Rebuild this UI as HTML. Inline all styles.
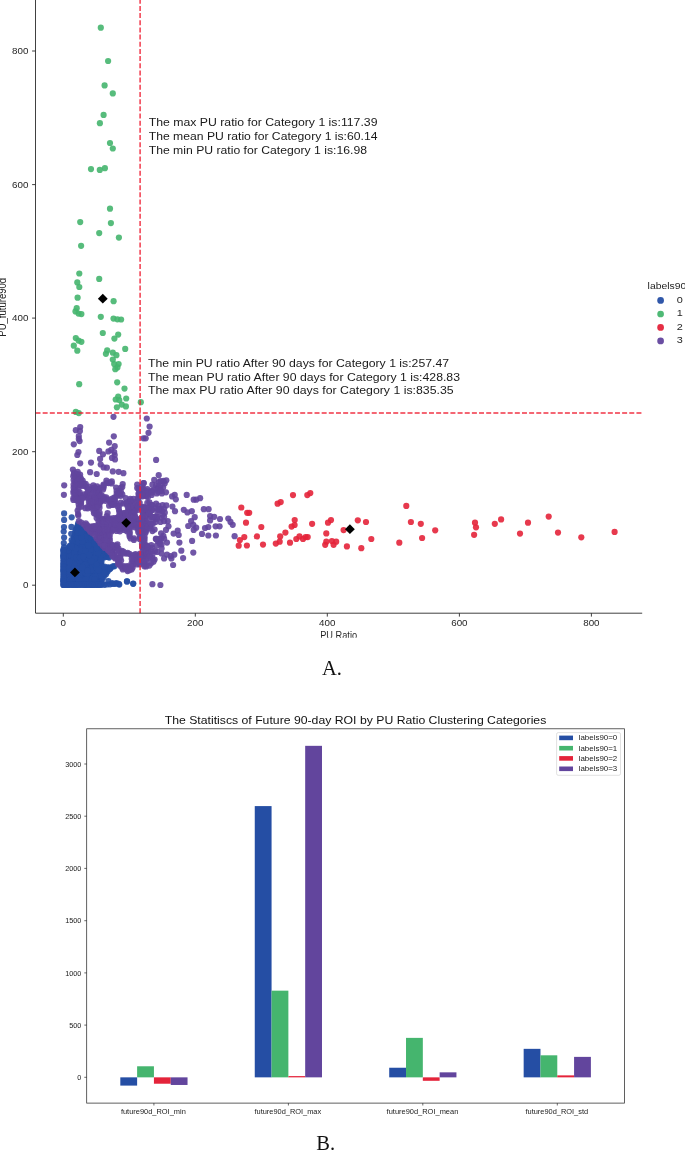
<!DOCTYPE html><html><head><meta charset="utf-8"><title>chart</title><style>html,body{margin:0;padding:0;background:#fff}body{width:685px;height:1150px;overflow:hidden}</style></head><body><svg width="685" height="1150" viewBox="0 0 685 1150" style="display:block;font-family:'Liberation Sans',sans-serif;will-change:transform;-webkit-font-smoothing:antialiased">
<rect width="685" height="1150" fill="#fff"/>
<g fill="#254ea4" fill-opacity="0.9">
<circle cx="108.4" cy="581.0" r="3.1"/><circle cx="116.4" cy="583.1" r="3.1"/><circle cx="119.3" cy="584.6" r="3.1"/><circle cx="126.9" cy="581.4" r="3.1"/><circle cx="133.2" cy="583.6" r="3.1"/><circle cx="112.2" cy="583.1" r="3.1"/><circle cx="74.7" cy="556.9" r="3.1"/><circle cx="81.0" cy="560.5" r="3.1"/><circle cx="64.0" cy="574.9" r="3.1"/><circle cx="75.7" cy="537.8" r="3.1"/><circle cx="103.2" cy="552.7" r="3.1"/><circle cx="93.6" cy="576.8" r="3.1"/><circle cx="88.3" cy="569.0" r="3.1"/><circle cx="99.5" cy="559.8" r="3.1"/><circle cx="77.7" cy="525.3" r="3.1"/><circle cx="104.6" cy="552.5" r="3.1"/><circle cx="97.6" cy="577.4" r="3.1"/><circle cx="97.4" cy="580.0" r="3.1"/><circle cx="82.2" cy="572.7" r="3.1"/><circle cx="84.6" cy="580.9" r="3.1"/><circle cx="93.2" cy="541.9" r="3.1"/><circle cx="87.5" cy="547.1" r="3.1"/><circle cx="91.2" cy="579.0" r="3.1"/><circle cx="95.9" cy="580.5" r="3.1"/><circle cx="77.0" cy="527.3" r="3.1"/><circle cx="67.6" cy="572.6" r="3.1"/><circle cx="82.9" cy="532.7" r="3.1"/><circle cx="77.4" cy="570.7" r="3.1"/><circle cx="87.5" cy="584.8" r="3.1"/><circle cx="72.8" cy="548.5" r="3.1"/><circle cx="65.4" cy="576.8" r="3.1"/><circle cx="78.3" cy="582.4" r="3.1"/><circle cx="85.3" cy="555.4" r="3.1"/><circle cx="94.0" cy="560.0" r="3.1"/><circle cx="90.0" cy="561.5" r="3.1"/><circle cx="83.9" cy="567.7" r="3.1"/><circle cx="74.7" cy="541.9" r="3.1"/><circle cx="83.2" cy="559.1" r="3.1"/><circle cx="64.4" cy="561.3" r="3.1"/><circle cx="93.3" cy="552.1" r="3.1"/><circle cx="95.7" cy="545.1" r="3.1"/><circle cx="97.1" cy="568.8" r="3.1"/><circle cx="95.6" cy="582.6" r="3.1"/><circle cx="75.4" cy="551.5" r="3.1"/><circle cx="91.6" cy="543.1" r="3.1"/><circle cx="80.7" cy="542.6" r="3.1"/><circle cx="77.7" cy="546.6" r="3.1"/><circle cx="90.5" cy="568.6" r="3.1"/><circle cx="78.2" cy="537.1" r="3.1"/><circle cx="72.3" cy="550.2" r="3.1"/><circle cx="78.7" cy="543.9" r="3.1"/><circle cx="79.4" cy="563.4" r="3.1"/><circle cx="88.6" cy="535.1" r="3.1"/><circle cx="101.8" cy="575.0" r="3.1"/><circle cx="79.9" cy="549.0" r="3.1"/><circle cx="83.4" cy="548.6" r="3.1"/><circle cx="63.6" cy="581.4" r="3.1"/><circle cx="98.9" cy="574.9" r="3.1"/><circle cx="95.0" cy="555.3" r="3.1"/><circle cx="77.2" cy="544.4" r="3.1"/><circle cx="91.4" cy="541.1" r="3.1"/><circle cx="64.0" cy="569.2" r="3.1"/><circle cx="83.1" cy="581.2" r="3.1"/><circle cx="92.5" cy="544.4" r="3.1"/><circle cx="75.4" cy="576.4" r="3.1"/><circle cx="86.1" cy="571.5" r="3.1"/><circle cx="80.1" cy="535.5" r="3.1"/><circle cx="88.8" cy="573.6" r="3.1"/><circle cx="71.6" cy="572.1" r="3.1"/><circle cx="76.2" cy="555.8" r="3.1"/><circle cx="83.5" cy="552.5" r="3.1"/><circle cx="67.5" cy="554.3" r="3.1"/><circle cx="72.5" cy="543.6" r="3.1"/><circle cx="69.3" cy="557.6" r="3.1"/><circle cx="97.5" cy="546.8" r="3.1"/><circle cx="101.5" cy="561.7" r="3.1"/><circle cx="83.9" cy="546.3" r="3.1"/><circle cx="87.0" cy="566.6" r="3.1"/><circle cx="83.4" cy="566.1" r="3.1"/><circle cx="85.3" cy="538.5" r="3.1"/><circle cx="88.9" cy="566.2" r="3.1"/><circle cx="66.8" cy="549.5" r="3.1"/><circle cx="83.7" cy="577.5" r="3.1"/><circle cx="106.1" cy="572.0" r="3.1"/><circle cx="69.3" cy="573.4" r="3.1"/><circle cx="94.9" cy="578.0" r="3.1"/><circle cx="101.1" cy="564.5" r="3.1"/><circle cx="98.3" cy="558.1" r="3.1"/><circle cx="68.3" cy="559.6" r="3.1"/><circle cx="69.2" cy="575.3" r="3.1"/><circle cx="95.5" cy="574.8" r="3.1"/><circle cx="99.9" cy="554.9" r="3.1"/><circle cx="99.1" cy="580.9" r="3.1"/><circle cx="90.2" cy="574.3" r="3.1"/><circle cx="74.9" cy="534.5" r="3.1"/><circle cx="75.3" cy="561.3" r="3.1"/><circle cx="99.3" cy="547.6" r="3.1"/><circle cx="86.4" cy="562.9" r="3.1"/><circle cx="68.0" cy="569.4" r="3.1"/><circle cx="107.0" cy="555.2" r="3.1"/><circle cx="72.9" cy="559.4" r="3.1"/><circle cx="77.5" cy="566.8" r="3.1"/><circle cx="83.1" cy="575.9" r="3.1"/><circle cx="86.2" cy="546.9" r="3.1"/><circle cx="71.6" cy="545.6" r="3.1"/><circle cx="78.7" cy="571.0" r="3.1"/><circle cx="70.2" cy="584.4" r="3.1"/><circle cx="86.2" cy="560.2" r="3.1"/><circle cx="85.7" cy="574.7" r="3.1"/><circle cx="102.5" cy="557.7" r="3.1"/><circle cx="98.3" cy="582.5" r="3.1"/><circle cx="74.6" cy="567.5" r="3.1"/><circle cx="72.3" cy="566.7" r="3.1"/><circle cx="78.3" cy="549.4" r="3.1"/><circle cx="67.8" cy="574.7" r="3.1"/><circle cx="91.0" cy="564.9" r="3.1"/><circle cx="76.5" cy="564.3" r="3.1"/><circle cx="68.8" cy="578.0" r="3.1"/><circle cx="100.2" cy="570.0" r="3.1"/><circle cx="94.5" cy="573.0" r="3.1"/><circle cx="76.0" cy="569.8" r="3.1"/><circle cx="86.9" cy="545.1" r="3.1"/><circle cx="97.6" cy="565.1" r="3.1"/><circle cx="94.1" cy="562.2" r="3.1"/><circle cx="71.9" cy="578.1" r="3.1"/><circle cx="79.2" cy="567.7" r="3.1"/><circle cx="91.8" cy="557.5" r="3.1"/><circle cx="78.3" cy="534.3" r="3.1"/><circle cx="66.7" cy="567.4" r="3.1"/><circle cx="76.1" cy="547.0" r="3.1"/><circle cx="87.4" cy="538.6" r="3.1"/><circle cx="89.2" cy="570.9" r="3.1"/><circle cx="80.2" cy="575.5" r="3.1"/><circle cx="100.5" cy="568.1" r="3.1"/><circle cx="83.2" cy="569.1" r="3.1"/><circle cx="102.2" cy="569.4" r="3.1"/><circle cx="82.4" cy="535.3" r="3.1"/><circle cx="88.5" cy="558.4" r="3.1"/><circle cx="101.6" cy="578.2" r="3.1"/><circle cx="93.6" cy="583.5" r="3.1"/><circle cx="92.0" cy="568.1" r="3.1"/><circle cx="63.5" cy="570.8" r="3.1"/><circle cx="94.9" cy="553.7" r="3.1"/><circle cx="88.3" cy="551.7" r="3.1"/><circle cx="72.6" cy="556.0" r="3.1"/><circle cx="65.2" cy="554.2" r="3.1"/><circle cx="94.1" cy="550.7" r="3.1"/><circle cx="90.3" cy="582.4" r="3.1"/><circle cx="89.1" cy="580.6" r="3.1"/><circle cx="78.8" cy="576.9" r="3.1"/><circle cx="107.5" cy="567.4" r="3.1"/><circle cx="101.8" cy="580.7" r="3.1"/><circle cx="99.4" cy="553.2" r="3.1"/><circle cx="71.1" cy="554.0" r="3.1"/><circle cx="96.7" cy="556.5" r="3.1"/><circle cx="83.5" cy="563.3" r="3.1"/><circle cx="77.9" cy="552.0" r="3.1"/><circle cx="81.1" cy="556.0" r="3.1"/><circle cx="85.3" cy="535.4" r="3.1"/><circle cx="84.7" cy="548.5" r="3.1"/><circle cx="64.7" cy="582.8" r="3.1"/><circle cx="86.0" cy="533.5" r="3.1"/><circle cx="100.9" cy="552.0" r="3.1"/><circle cx="75.3" cy="539.8" r="3.1"/><circle cx="79.8" cy="529.2" r="3.1"/><circle cx="66.0" cy="563.6" r="3.1"/><circle cx="77.9" cy="560.7" r="3.1"/><circle cx="77.4" cy="575.7" r="3.1"/><circle cx="68.9" cy="547.4" r="3.1"/><circle cx="79.3" cy="565.2" r="3.1"/><circle cx="98.6" cy="568.5" r="3.1"/><circle cx="83.1" cy="537.5" r="3.1"/><circle cx="76.2" cy="533.8" r="3.1"/><circle cx="97.7" cy="560.7" r="3.1"/><circle cx="85.6" cy="570.0" r="3.1"/><circle cx="106.1" cy="568.5" r="3.1"/><circle cx="79.3" cy="546.2" r="3.1"/><circle cx="70.7" cy="563.0" r="3.1"/><circle cx="74.3" cy="582.9" r="3.1"/><circle cx="92.2" cy="571.9" r="3.1"/><circle cx="67.5" cy="552.0" r="3.1"/><circle cx="74.0" cy="574.4" r="3.1"/><circle cx="92.7" cy="562.9" r="3.1"/><circle cx="99.6" cy="577.0" r="3.1"/><circle cx="79.9" cy="553.2" r="3.1"/><circle cx="66.8" cy="557.4" r="3.1"/><circle cx="98.4" cy="549.4" r="3.1"/><circle cx="73.6" cy="545.0" r="3.1"/><circle cx="92.5" cy="580.7" r="3.1"/><circle cx="88.9" cy="549.2" r="3.1"/><circle cx="77.3" cy="580.9" r="3.1"/><circle cx="88.1" cy="562.7" r="3.1"/><circle cx="65.3" cy="569.2" r="3.1"/><circle cx="76.5" cy="550.0" r="3.1"/><circle cx="79.8" cy="569.0" r="3.1"/><circle cx="70.7" cy="570.3" r="3.1"/><circle cx="81.1" cy="533.3" r="3.1"/><circle cx="88.4" cy="556.7" r="3.1"/><circle cx="69.7" cy="556.1" r="3.1"/><circle cx="84.0" cy="544.2" r="3.1"/><circle cx="75.2" cy="572.7" r="3.1"/><circle cx="83.3" cy="539.4" r="3.1"/><circle cx="65.5" cy="549.8" r="3.1"/><circle cx="93.3" cy="564.9" r="3.1"/><circle cx="75.2" cy="531.8" r="3.1"/><circle cx="99.5" cy="572.0" r="3.1"/><circle cx="89.7" cy="540.6" r="3.1"/><circle cx="83.1" cy="555.3" r="3.1"/><circle cx="95.9" cy="584.4" r="3.1"/><circle cx="80.2" cy="551.4" r="3.1"/><circle cx="78.4" cy="555.5" r="3.1"/><circle cx="86.6" cy="540.6" r="3.1"/><circle cx="68.3" cy="564.5" r="3.1"/><circle cx="81.6" cy="574.3" r="3.1"/><circle cx="78.5" cy="540.1" r="3.1"/><circle cx="76.8" cy="531.5" r="3.1"/><circle cx="76.8" cy="582.5" r="3.1"/><circle cx="70.3" cy="579.1" r="3.1"/><circle cx="71.9" cy="584.5" r="3.1"/><circle cx="95.5" cy="563.2" r="3.1"/><circle cx="72.4" cy="574.0" r="3.1"/><circle cx="81.6" cy="530.0" r="3.1"/><circle cx="82.0" cy="584.1" r="3.1"/><circle cx="80.2" cy="579.7" r="3.1"/><circle cx="80.3" cy="581.9" r="3.1"/><circle cx="100.6" cy="558.4" r="3.1"/><circle cx="64.1" cy="576.9" r="3.1"/><circle cx="70.4" cy="560.3" r="3.1"/><circle cx="104.4" cy="574.8" r="3.1"/><circle cx="85.0" cy="552.8" r="3.1"/><circle cx="88.7" cy="577.2" r="3.1"/><circle cx="84.4" cy="561.4" r="3.1"/><circle cx="103.7" cy="571.2" r="3.1"/><circle cx="82.4" cy="546.3" r="3.1"/><circle cx="86.0" cy="578.2" r="3.1"/><circle cx="99.3" cy="584.4" r="3.1"/><circle cx="86.2" cy="549.4" r="3.1"/><circle cx="106.0" cy="574.2" r="3.1"/><circle cx="67.6" cy="562.8" r="3.1"/><circle cx="85.7" cy="576.1" r="3.1"/><circle cx="77.6" cy="578.7" r="3.1"/><circle cx="100.0" cy="579.4" r="3.1"/><circle cx="104.2" cy="568.8" r="3.1"/><circle cx="84.0" cy="542.6" r="3.1"/><circle cx="81.7" cy="575.8" r="3.1"/><circle cx="75.9" cy="566.1" r="3.1"/><circle cx="73.9" cy="550.6" r="3.1"/><circle cx="90.3" cy="538.5" r="3.1"/><circle cx="76.2" cy="578.7" r="3.1"/><circle cx="79.9" cy="584.6" r="3.1"/><circle cx="105.5" cy="556.7" r="3.1"/><circle cx="63.9" cy="565.1" r="3.1"/><circle cx="86.2" cy="558.3" r="3.1"/><circle cx="90.2" cy="547.1" r="3.1"/><circle cx="73.0" cy="554.5" r="3.1"/><circle cx="104.7" cy="555.1" r="3.1"/><circle cx="76.6" cy="542.7" r="3.1"/><circle cx="90.6" cy="554.8" r="3.1"/><circle cx="68.1" cy="566.7" r="3.1"/><circle cx="85.2" cy="583.3" r="3.1"/><circle cx="71.3" cy="564.4" r="3.1"/><circle cx="96.1" cy="549.7" r="3.1"/><circle cx="73.5" cy="570.0" r="3.1"/><circle cx="87.4" cy="582.0" r="3.1"/><circle cx="89.3" cy="564.5" r="3.1"/><circle cx="92.5" cy="539.6" r="3.1"/><circle cx="88.1" cy="543.6" r="3.1"/><circle cx="95.2" cy="543.5" r="3.1"/><circle cx="74.3" cy="549.0" r="3.1"/><circle cx="94.9" cy="568.6" r="3.1"/><circle cx="68.1" cy="580.4" r="3.1"/><circle cx="84.3" cy="531.2" r="3.1"/><circle cx="69.2" cy="554.1" r="3.1"/><circle cx="64.0" cy="552.5" r="3.1"/><circle cx="63.6" cy="567.0" r="3.1"/><circle cx="67.6" cy="582.7" r="3.1"/><circle cx="66.7" cy="565.0" r="3.1"/><circle cx="82.0" cy="552.0" r="3.1"/><circle cx="75.6" cy="545.4" r="3.1"/><circle cx="73.8" cy="537.4" r="3.1"/><circle cx="107.9" cy="569.7" r="3.1"/><circle cx="75.3" cy="535.9" r="3.1"/><circle cx="70.8" cy="583.0" r="3.1"/><circle cx="72.9" cy="580.1" r="3.1"/><circle cx="82.4" cy="544.6" r="3.1"/><circle cx="84.2" cy="570.6" r="3.1"/><circle cx="71.5" cy="575.5" r="3.1"/><circle cx="87.9" cy="575.4" r="3.1"/><circle cx="87.0" cy="551.2" r="3.1"/><circle cx="103.6" cy="577.3" r="3.1"/><circle cx="99.3" cy="551.2" r="3.1"/><circle cx="67.2" cy="578.2" r="3.1"/><circle cx="92.9" cy="570.5" r="3.1"/><circle cx="69.9" cy="568.2" r="3.1"/><circle cx="91.7" cy="548.3" r="3.1"/><circle cx="92.8" cy="553.9" r="3.1"/><circle cx="88.3" cy="553.6" r="3.1"/><circle cx="90.1" cy="558.9" r="3.1"/><circle cx="72.9" cy="582.3" r="3.1"/><circle cx="63.5" cy="550.4" r="3.1"/><circle cx="79.7" cy="527.4" r="3.1"/><circle cx="89.7" cy="545.8" r="3.1"/><circle cx="66.2" cy="580.0" r="3.1"/><circle cx="82.3" cy="577.4" r="3.1"/><circle cx="99.6" cy="565.6" r="3.1"/><circle cx="80.4" cy="554.6" r="3.1"/><circle cx="99.0" cy="573.5" r="3.1"/><circle cx="81.0" cy="545.3" r="3.1"/><circle cx="73.2" cy="563.6" r="3.1"/><circle cx="81.4" cy="557.9" r="3.1"/><circle cx="88.0" cy="541.0" r="3.1"/><circle cx="72.6" cy="568.4" r="3.1"/><circle cx="91.4" cy="551.0" r="3.1"/><circle cx="64.0" cy="558.2" r="3.1"/><circle cx="73.3" cy="571.7" r="3.1"/><circle cx="90.1" cy="542.1" r="3.1"/><circle cx="74.7" cy="563.0" r="3.1"/><circle cx="93.0" cy="574.0" r="3.1"/><circle cx="74.2" cy="577.9" r="3.1"/><circle cx="82.8" cy="560.4" r="3.1"/><circle cx="102.5" cy="567.4" r="3.1"/><circle cx="81.7" cy="538.9" r="3.1"/><circle cx="78.7" cy="559.0" r="3.1"/><circle cx="81.9" cy="582.5" r="3.1"/><circle cx="96.9" cy="562.0" r="3.1"/><circle cx="81.1" cy="566.8" r="3.1"/><circle cx="66.9" cy="559.8" r="3.1"/><circle cx="92.6" cy="546.5" r="3.1"/><circle cx="107.6" cy="571.6" r="3.1"/><circle cx="81.2" cy="565.0" r="3.1"/><circle cx="75.2" cy="543.3" r="3.1"/><circle cx="84.6" cy="557.3" r="3.1"/><circle cx="93.1" cy="555.4" r="3.1"/><circle cx="65.7" cy="551.3" r="3.1"/><circle cx="84.4" cy="584.8" r="3.1"/><circle cx="96.1" cy="559.0" r="3.1"/><circle cx="77.9" cy="535.6" r="3.1"/><circle cx="79.5" cy="532.6" r="3.1"/><circle cx="89.0" cy="536.7" r="3.1"/><circle cx="76.8" cy="541.0" r="3.1"/><circle cx="67.6" cy="555.8" r="3.1"/><circle cx="102.7" cy="550.9" r="3.1"/><circle cx="81.1" cy="562.7" r="3.1"/><circle cx="87.3" cy="534.7" r="3.1"/><circle cx="94.5" cy="566.5" r="3.1"/><circle cx="97.2" cy="570.3" r="3.1"/><circle cx="93.3" cy="548.2" r="3.1"/><circle cx="97.9" cy="551.4" r="3.1"/><circle cx="91.6" cy="575.2" r="3.1"/><circle cx="97.9" cy="554.6" r="3.1"/><circle cx="91.9" cy="584.9" r="3.1"/><circle cx="73.2" cy="560.9" r="3.1"/><circle cx="80.1" cy="538.0" r="3.1"/><circle cx="81.3" cy="569.9" r="3.1"/><circle cx="87.8" cy="564.4" r="3.1"/><circle cx="77.1" cy="574.3" r="3.1"/><circle cx="76.0" cy="554.3" r="3.1"/><circle cx="97.1" cy="574.3" r="3.1"/><circle cx="96.2" cy="572.5" r="3.1"/><circle cx="96.2" cy="566.1" r="3.1"/><circle cx="65.3" cy="578.6" r="3.1"/><circle cx="91.8" cy="559.8" r="3.1"/><circle cx="78.4" cy="557.3" r="3.1"/><circle cx="84.9" cy="566.2" r="3.1"/><circle cx="74.3" cy="579.4" r="3.1"/><circle cx="98.9" cy="564.3" r="3.1"/><circle cx="90.4" cy="572.3" r="3.1"/><circle cx="89.8" cy="551.7" r="3.1"/><circle cx="66.2" cy="582.0" r="3.1"/><circle cx="66.2" cy="572.9" r="3.1"/><circle cx="74.9" cy="580.9" r="3.1"/><circle cx="94.8" cy="548.3" r="3.1"/><circle cx="86.8" cy="555.1" r="3.1"/><circle cx="63.9" cy="559.9" r="3.1"/><circle cx="110.4" cy="567.5" r="3.1"/><circle cx="75.9" cy="529.6" r="3.1"/><circle cx="100.9" cy="582.4" r="3.1"/><circle cx="84.1" cy="573.6" r="3.1"/><circle cx="68.6" cy="568.0" r="3.1"/><circle cx="66.9" cy="576.3" r="3.1"/><circle cx="82.9" cy="550.5" r="3.1"/><circle cx="69.7" cy="550.2" r="3.1"/><circle cx="74.3" cy="558.7" r="3.1"/><circle cx="77.4" cy="548.0" r="3.1"/><circle cx="101.2" cy="555.3" r="3.1"/><circle cx="85.6" cy="543.9" r="3.1"/><circle cx="96.5" cy="553.4" r="3.1"/><circle cx="80.3" cy="572.3" r="3.1"/><circle cx="65.7" cy="571.0" r="3.1"/><circle cx="93.1" cy="575.5" r="3.1"/><circle cx="73.9" cy="539.1" r="3.1"/><circle cx="81.9" cy="528.6" r="3.1"/><circle cx="80.0" cy="541.1" r="3.1"/><circle cx="73.0" cy="552.5" r="3.1"/><circle cx="91.2" cy="545.3" r="3.1"/><circle cx="83.7" cy="534.2" r="3.1"/><circle cx="76.8" cy="562.1" r="3.1"/><circle cx="67.0" cy="584.4" r="3.1"/><circle cx="103.3" cy="556.0" r="3.1"/><circle cx="70.2" cy="566.5" r="3.1"/><circle cx="89.8" cy="557.0" r="3.1"/><circle cx="101.8" cy="549.2" r="3.1"/><circle cx="77.9" cy="572.7" r="3.1"/><circle cx="77.6" cy="530.2" r="3.1"/><circle cx="73.4" cy="584.6" r="3.1"/><circle cx="80.4" cy="577.6" r="3.1"/><circle cx="71.3" cy="580.7" r="3.1"/><circle cx="83.4" cy="578.8" r="3.1"/><circle cx="90.2" cy="577.0" r="3.1"/><circle cx="98.0" cy="584.8" r="3.1"/><circle cx="65.7" cy="552.7" r="3.1"/><circle cx="101.9" cy="576.5" r="3.1"/><circle cx="78.4" cy="542.1" r="3.1"/><circle cx="72.6" cy="542.0" r="3.1"/><circle cx="84.8" cy="540.6" r="3.1"/><circle cx="94.1" cy="546.6" r="3.1"/><circle cx="82.3" cy="543.0" r="3.1"/><circle cx="102.6" cy="573.0" r="3.1"/><circle cx="77.4" cy="554.0" r="3.1"/><circle cx="90.7" cy="580.7" r="3.1"/><circle cx="107.7" cy="557.0" r="3.1"/><circle cx="77.2" cy="559.4" r="3.1"/><circle cx="96.1" cy="551.5" r="3.1"/><circle cx="91.6" cy="576.8" r="3.1"/><circle cx="65.5" cy="559.4" r="3.1"/><circle cx="85.2" cy="568.6" r="3.1"/><circle cx="71.6" cy="558.9" r="3.1"/><circle cx="77.8" cy="564.1" r="3.1"/><circle cx="69.3" cy="552.4" r="3.1"/><circle cx="79.6" cy="530.7" r="3.1"/><circle cx="89.8" cy="579.2" r="3.1"/><circle cx="86.4" cy="552.9" r="3.1"/><circle cx="66.6" cy="561.3" r="3.1"/><circle cx="76.1" cy="584.8" r="3.1"/><circle cx="78.5" cy="562.0" r="3.1"/><circle cx="96.6" cy="543.6" r="3.1"/><circle cx="88.3" cy="578.9" r="3.1"/><circle cx="95.9" cy="546.4" r="3.1"/><circle cx="71.1" cy="556.8" r="3.1"/><circle cx="80.8" cy="546.6" r="3.1"/><circle cx="78.0" cy="584.4" r="3.1"/><circle cx="74.3" cy="547.3" r="3.1"/><circle cx="96.3" cy="560.5" r="3.1"/><circle cx="70.4" cy="577.6" r="3.1"/><circle cx="88.4" cy="560.3" r="3.1"/><circle cx="69.7" cy="581.0" r="3.1"/><circle cx="88.9" cy="583.0" r="3.1"/><circle cx="78.1" cy="523.5" r="3.1"/><circle cx="78.3" cy="528.7" r="3.1"/><circle cx="65.3" cy="556.7" r="3.1"/><circle cx="73.3" cy="576.4" r="3.1"/><circle cx="93.3" cy="557.5" r="3.1"/><circle cx="87.0" cy="536.3" r="3.1"/><circle cx="84.8" cy="563.2" r="3.1"/><circle cx="100.1" cy="562.2" r="3.1"/><circle cx="71.2" cy="555.4" r="3.1"/><circle cx="71.6" cy="547.2" r="3.1"/><circle cx="86.1" cy="581.8" r="3.1"/><circle cx="89.9" cy="553.2" r="3.1"/><circle cx="81.7" cy="540.4" r="3.1"/><circle cx="85.7" cy="531.8" r="3.1"/><circle cx="83.4" cy="564.8" r="3.1"/><circle cx="101.1" cy="572.9" r="3.1"/><circle cx="82.1" cy="553.4" r="3.1"/><circle cx="73.1" cy="565.1" r="3.1"/><circle cx="82.1" cy="547.9" r="3.1"/><circle cx="63.8" cy="580.1" r="3.1"/><circle cx="70.9" cy="548.8" r="3.1"/><circle cx="82.3" cy="571.3" r="3.1"/><circle cx="93.3" cy="569.1" r="3.1"/><circle cx="97.9" cy="545.3" r="3.1"/><circle cx="71.8" cy="560.8" r="3.1"/><circle cx="101.1" cy="550.5" r="3.1"/><circle cx="65.8" cy="574.3" r="3.1"/><circle cx="93.0" cy="578.2" r="3.1"/><circle cx="97.1" cy="575.9" r="3.1"/><circle cx="67.4" cy="571.0" r="3.1"/><circle cx="104.0" cy="557.5" r="3.1"/><circle cx="69.3" cy="582.8" r="3.1"/><circle cx="88.9" cy="538.4" r="3.1"/><circle cx="81.2" cy="549.8" r="3.1"/><circle cx="102.7" cy="554.0" r="3.1"/><circle cx="77.9" cy="538.8" r="3.1"/><circle cx="90.3" cy="562.9" r="3.1"/><circle cx="108.9" cy="567.6" r="3.1"/><circle cx="93.6" cy="584.8" r="3.1"/><circle cx="94.6" cy="570.8" r="3.1"/><circle cx="94.1" cy="545.0" r="3.1"/><circle cx="90.8" cy="549.6" r="3.1"/><circle cx="74.5" cy="555.0" r="3.1"/><circle cx="81.8" cy="581.1" r="3.1"/><circle cx="89.2" cy="584.5" r="3.1"/><circle cx="64.4" cy="563.6" r="3.1"/><circle cx="92.9" cy="566.7" r="3.1"/><circle cx="98.8" cy="562.1" r="3.1"/><circle cx="84.4" cy="572.1" r="3.1"/><circle cx="101.2" cy="553.4" r="3.1"/><circle cx="102.0" cy="566.0" r="3.1"/><circle cx="85.8" cy="542.5" r="3.1"/><circle cx="75.7" cy="574.1" r="3.1"/><circle cx="86.4" cy="564.7" r="3.1"/><circle cx="63.9" cy="555.8" r="3.1"/><circle cx="83.8" cy="535.8" r="3.1"/><circle cx="97.9" cy="572.0" r="3.1"/><circle cx="94.8" cy="564.5" r="3.1"/><circle cx="79.5" cy="560.4" r="3.1"/><circle cx="79.1" cy="525.9" r="3.1"/><circle cx="74.6" cy="565.2" r="3.1"/><circle cx="68.4" cy="550.1" r="3.1"/><circle cx="102.4" cy="571.2" r="3.1"/><circle cx="106.1" cy="570.0" r="3.1"/><circle cx="88.8" cy="572.3" r="3.1"/><circle cx="82.0" cy="579.3" r="3.1"/><circle cx="96.5" cy="567.4" r="3.1"/><circle cx="100.3" cy="548.9" r="3.1"/><circle cx="98.8" cy="556.5" r="3.1"/><circle cx="70.0" cy="545.7" r="3.1"/><circle cx="98.5" cy="567.1" r="3.1"/><circle cx="85.3" cy="551.0" r="3.1"/><circle cx="104.4" cy="566.5" r="3.1"/><circle cx="100.4" cy="575.2" r="3.1"/><circle cx="74.6" cy="553.3" r="3.1"/><circle cx="86.9" cy="568.2" r="3.1"/><circle cx="82.1" cy="541.7" r="3.1"/><circle cx="109.5" cy="569.2" r="3.1"/><circle cx="94.2" cy="581.8" r="3.1"/><circle cx="68.3" cy="584.7" r="3.1"/><circle cx="69.3" cy="561.9" r="3.1"/><circle cx="86.9" cy="579.9" r="3.1"/><circle cx="85.3" cy="536.9" r="3.1"/><circle cx="89.6" cy="544.0" r="3.1"/><circle cx="87.1" cy="574.1" r="3.1"/><circle cx="88.4" cy="545.6" r="3.1"/><circle cx="89.0" cy="555.2" r="3.1"/><circle cx="98.5" cy="570.2" r="3.1"/><circle cx="94.7" cy="541.9" r="3.1"/><circle cx="79.7" cy="574.1" r="3.1"/><circle cx="76.3" cy="568.3" r="3.1"/><circle cx="85.2" cy="579.6" r="3.1"/><circle cx="76.6" cy="557.5" r="3.1"/><circle cx="97.0" cy="582.8" r="3.1"/><circle cx="80.0" cy="557.6" r="3.1"/><circle cx="85.0" cy="564.7" r="3.1"/><circle cx="95.3" cy="576.5" r="3.1"/><circle cx="63.8" cy="573.3" r="3.1"/><circle cx="91.8" cy="583.1" r="3.1"/><circle cx="86.0" cy="584.6" r="3.1"/><circle cx="64.0" cy="584.6" r="3.1"/><circle cx="78.3" cy="569.2" r="3.1"/><circle cx="70.3" cy="547.3" r="3.1"/><circle cx="100.9" cy="556.6" r="3.1"/><circle cx="90.9" cy="570.1" r="3.1"/><circle cx="81.4" cy="537.3" r="3.1"/><circle cx="70.0" cy="572.0" r="3.1"/><circle cx="95.4" cy="557.1" r="3.1"/><circle cx="73.0" cy="546.9" r="3.1"/><circle cx="78.1" cy="532.6" r="3.1"/><circle cx="83.8" cy="529.8" r="3.1"/><circle cx="96.8" cy="563.4" r="3.1"/><circle cx="82.5" cy="567.4" r="3.1"/><circle cx="81.4" cy="532.0" r="3.1"/><circle cx="94.7" cy="558.6" r="3.1"/><circle cx="64.0" cy="578.3" r="3.1"/><circle cx="98.1" cy="552.8" r="3.1"/><circle cx="104.4" cy="573.0" r="3.1"/><circle cx="83.5" cy="583.2" r="3.1"/><circle cx="77.1" cy="577.2" r="3.1"/><circle cx="75.8" cy="548.4" r="3.1"/><circle cx="101.0" cy="560.1" r="3.1"/><circle cx="91.5" cy="561.2" r="3.1"/><circle cx="109.2" cy="557.6" r="3.1"/><circle cx="78.9" cy="580.2" r="3.1"/><circle cx="96.8" cy="548.1" r="3.1"/><circle cx="94.4" cy="579.6" r="3.1"/><circle cx="87.6" cy="570.8" r="3.1"/><circle cx="83.2" cy="556.6" r="3.1"/><circle cx="63.4" cy="584.9" r="3.1"/><circle cx="65.4" cy="584.7" r="3.1"/><circle cx="66.6" cy="585.0" r="3.1"/><circle cx="68.5" cy="584.8" r="3.1"/><circle cx="70.1" cy="584.7" r="3.1"/><circle cx="71.9" cy="584.7" r="3.1"/><circle cx="73.1" cy="584.8" r="3.1"/><circle cx="74.4" cy="584.8" r="3.1"/><circle cx="76.4" cy="584.9" r="3.1"/><circle cx="77.8" cy="584.7" r="3.1"/><circle cx="79.3" cy="584.7" r="3.1"/><circle cx="81.1" cy="584.8" r="3.1"/><circle cx="82.9" cy="584.8" r="3.1"/><circle cx="84.4" cy="584.8" r="3.1"/><circle cx="85.9" cy="584.8" r="3.1"/><circle cx="87.9" cy="584.7" r="3.1"/><circle cx="89.8" cy="585.0" r="3.1"/><circle cx="91.5" cy="584.9" r="3.1"/><circle cx="92.9" cy="584.9" r="3.1"/><circle cx="94.9" cy="585.0" r="3.1"/><circle cx="97.0" cy="584.8" r="3.1"/><circle cx="98.7" cy="584.7" r="3.1"/><circle cx="100.9" cy="584.9" r="3.1"/><circle cx="63.5" cy="584.9" r="3.1"/><circle cx="63.5" cy="583.0" r="3.1"/><circle cx="63.4" cy="581.2" r="3.1"/><circle cx="63.3" cy="579.7" r="3.1"/><circle cx="63.4" cy="577.8" r="3.1"/><circle cx="63.4" cy="575.7" r="3.1"/><circle cx="63.6" cy="573.7" r="3.1"/><circle cx="63.5" cy="571.5" r="3.1"/><circle cx="63.3" cy="569.9" r="3.1"/><circle cx="63.5" cy="568.1" r="3.1"/><circle cx="63.6" cy="566.5" r="3.1"/><circle cx="63.4" cy="565.0" r="3.1"/><circle cx="63.4" cy="563.6" r="3.1"/><circle cx="63.5" cy="561.7" r="3.1"/><circle cx="63.6" cy="560.2" r="3.1"/><circle cx="63.4" cy="558.1" r="3.1"/><circle cx="63.3" cy="556.8" r="3.1"/><circle cx="63.3" cy="555.3" r="3.1"/><circle cx="63.6" cy="554.0" r="3.1"/><circle cx="63.6" cy="552.5" r="3.1"/><circle cx="63.5" cy="550.9" r="3.1"/><circle cx="63.5" cy="549.4" r="3.1"/><circle cx="64.1" cy="513.4" r="3.1"/><circle cx="64.1" cy="519.9" r="3.1"/><circle cx="64.0" cy="527.0" r="3.1"/><circle cx="63.7" cy="531.5" r="3.1"/><circle cx="64.1" cy="537.5" r="3.1"/><circle cx="63.8" cy="543.0" r="3.1"/><circle cx="64.1" cy="547.0" r="3.1"/><circle cx="71.7" cy="517.3" r="3.1"/><circle cx="71.4" cy="526.9" r="3.1"/><circle cx="71.2" cy="533.8" r="3.1"/><circle cx="71.6" cy="540.0" r="3.1"/><circle cx="71.2" cy="546.0" r="3.1"/><circle cx="77.8" cy="527.5" r="3.1"/><circle cx="112.9" cy="566.4" r="3.1"/><circle cx="110.5" cy="568.5" r="3.1"/><circle cx="114.4" cy="566.2" r="3.1"/><circle cx="102.0" cy="584.3" r="3.1"/><circle cx="104.5" cy="584.8" r="3.1"/><circle cx="107.0" cy="584.5" r="3.1"/><circle cx="110.0" cy="584.3" r="3.1"/><circle cx="113.0" cy="584.0" r="3.1"/><circle cx="115.3" cy="583.8" r="3.1"/><circle cx="118.8" cy="583.9" r="3.1"/><circle cx="127.1" cy="581.4" r="3.1"/><circle cx="133.2" cy="583.8" r="3.1"/>
</g>
<g fill="#45b56e" fill-opacity="0.9">
<circle cx="100.8" cy="27.7" r="3.1"/><circle cx="108.1" cy="61.0" r="3.1"/><circle cx="104.6" cy="85.4" r="3.1"/><circle cx="112.8" cy="93.4" r="3.1"/><circle cx="103.6" cy="114.9" r="3.1"/><circle cx="99.9" cy="123.2" r="3.1"/><circle cx="110.0" cy="143.0" r="3.1"/><circle cx="112.8" cy="148.5" r="3.1"/><circle cx="91.0" cy="169.1" r="3.1"/><circle cx="99.8" cy="169.9" r="3.1"/><circle cx="104.9" cy="168.2" r="3.1"/><circle cx="110.0" cy="208.7" r="3.1"/><circle cx="80.2" cy="222.1" r="3.1"/><circle cx="110.9" cy="223.1" r="3.1"/><circle cx="99.2" cy="233.1" r="3.1"/><circle cx="118.9" cy="237.6" r="3.1"/><circle cx="81.1" cy="245.8" r="3.1"/><circle cx="79.3" cy="273.5" r="3.1"/><circle cx="99.2" cy="278.9" r="3.1"/><circle cx="77.3" cy="282.4" r="3.1"/><circle cx="79.3" cy="287.0" r="3.1"/><circle cx="77.6" cy="297.7" r="3.1"/><circle cx="113.6" cy="301.2" r="3.1"/><circle cx="76.7" cy="308.2" r="3.1"/><circle cx="75.5" cy="311.4" r="3.1"/><circle cx="78.5" cy="313.6" r="3.1"/><circle cx="81.4" cy="314.1" r="3.1"/><circle cx="100.8" cy="316.8" r="3.1"/><circle cx="113.5" cy="318.6" r="3.1"/><circle cx="117.4" cy="319.3" r="3.1"/><circle cx="121.1" cy="319.5" r="3.1"/><circle cx="102.8" cy="333.0" r="3.1"/><circle cx="118.2" cy="334.6" r="3.1"/><circle cx="114.4" cy="338.6" r="3.1"/><circle cx="75.8" cy="338.0" r="3.1"/><circle cx="78.5" cy="340.6" r="3.1"/><circle cx="81.4" cy="341.8" r="3.1"/><circle cx="73.8" cy="345.7" r="3.1"/><circle cx="77.3" cy="350.7" r="3.1"/><circle cx="125.2" cy="348.9" r="3.1"/><circle cx="107.2" cy="350.4" r="3.1"/><circle cx="105.9" cy="353.8" r="3.1"/><circle cx="112.8" cy="352.7" r="3.1"/><circle cx="116.4" cy="355.2" r="3.1"/><circle cx="112.8" cy="359.6" r="3.1"/><circle cx="118.6" cy="364.0" r="3.1"/><circle cx="114.2" cy="364.0" r="3.1"/><circle cx="117.4" cy="367.4" r="3.1"/><circle cx="115.3" cy="369.2" r="3.1"/><circle cx="79.2" cy="384.2" r="3.1"/><circle cx="117.2" cy="382.3" r="3.1"/><circle cx="124.5" cy="388.6" r="3.1"/><circle cx="118.2" cy="396.6" r="3.1"/><circle cx="115.7" cy="399.5" r="3.1"/><circle cx="119.3" cy="400.0" r="3.1"/><circle cx="126.2" cy="398.5" r="3.1"/><circle cx="121.8" cy="404.6" r="3.1"/><circle cx="125.9" cy="406.4" r="3.1"/><circle cx="116.9" cy="407.3" r="3.1"/><circle cx="140.8" cy="402.2" r="3.1"/><circle cx="75.8" cy="411.9" r="3.1"/><circle cx="78.8" cy="413.1" r="3.1"/>
</g>
<g fill="#e4233a" fill-opacity="0.9">
<circle cx="241.3" cy="507.5" r="3.1"/><circle cx="247.2" cy="512.8" r="3.1"/><circle cx="249.2" cy="512.8" r="3.1"/><circle cx="246.0" cy="522.7" r="3.1"/><circle cx="261.3" cy="527.0" r="3.1"/><circle cx="256.9" cy="536.4" r="3.1"/><circle cx="244.3" cy="537.1" r="3.1"/><circle cx="239.9" cy="540.1" r="3.1"/><circle cx="238.7" cy="545.7" r="3.1"/><circle cx="246.9" cy="545.5" r="3.1"/><circle cx="263.0" cy="544.6" r="3.1"/><circle cx="277.6" cy="503.7" r="3.1"/><circle cx="280.7" cy="502.1" r="3.1"/><circle cx="293.0" cy="495.1" r="3.1"/><circle cx="307.3" cy="495.1" r="3.1"/><circle cx="310.3" cy="493.1" r="3.1"/><circle cx="294.7" cy="520.1" r="3.1"/><circle cx="294.6" cy="525.0" r="3.1"/><circle cx="291.6" cy="526.6" r="3.1"/><circle cx="285.4" cy="532.6" r="3.1"/><circle cx="280.2" cy="536.4" r="3.1"/><circle cx="279.7" cy="541.7" r="3.1"/><circle cx="275.8" cy="543.6" r="3.1"/><circle cx="290.0" cy="542.7" r="3.1"/><circle cx="296.3" cy="539.0" r="3.1"/><circle cx="299.5" cy="536.4" r="3.1"/><circle cx="303.0" cy="538.9" r="3.1"/><circle cx="305.6" cy="537.1" r="3.1"/><circle cx="307.7" cy="537.1" r="3.1"/><circle cx="312.1" cy="523.8" r="3.1"/><circle cx="331.0" cy="520.1" r="3.1"/><circle cx="328.0" cy="522.7" r="3.1"/><circle cx="326.3" cy="533.4" r="3.1"/><circle cx="326.3" cy="541.7" r="3.1"/><circle cx="325.2" cy="544.8" r="3.1"/><circle cx="331.9" cy="541.0" r="3.1"/><circle cx="333.6" cy="544.8" r="3.1"/><circle cx="336.2" cy="541.7" r="3.1"/><circle cx="343.6" cy="530.1" r="3.1"/><circle cx="346.9" cy="546.4" r="3.1"/><circle cx="357.8" cy="520.3" r="3.1"/><circle cx="366.0" cy="522.0" r="3.1"/><circle cx="361.3" cy="548.2" r="3.1"/><circle cx="371.3" cy="539.0" r="3.1"/><circle cx="406.3" cy="505.9" r="3.1"/><circle cx="410.9" cy="522.0" r="3.1"/><circle cx="420.8" cy="523.8" r="3.1"/><circle cx="435.2" cy="530.3" r="3.1"/><circle cx="422.1" cy="538.0" r="3.1"/><circle cx="399.3" cy="542.7" r="3.1"/><circle cx="475.0" cy="522.7" r="3.1"/><circle cx="476.0" cy="527.3" r="3.1"/><circle cx="474.1" cy="534.8" r="3.1"/><circle cx="494.8" cy="523.8" r="3.1"/><circle cx="501.1" cy="519.4" r="3.1"/><circle cx="520.0" cy="533.6" r="3.1"/><circle cx="528.0" cy="522.7" r="3.1"/><circle cx="548.7" cy="516.6" r="3.1"/><circle cx="558.0" cy="532.6" r="3.1"/><circle cx="581.3" cy="537.3" r="3.1"/><circle cx="614.6" cy="531.9" r="3.1"/>
</g>
<g fill="#62459d" fill-opacity="0.9">
<circle cx="106.0" cy="527.5" r="3.1"/><circle cx="141.3" cy="518.0" r="3.1"/><circle cx="110.2" cy="530.3" r="3.1"/><circle cx="119.3" cy="551.1" r="3.1"/><circle cx="79.2" cy="501.6" r="3.1"/><circle cx="86.4" cy="495.4" r="3.1"/><circle cx="109.6" cy="537.9" r="3.1"/><circle cx="106.4" cy="499.1" r="3.1"/><circle cx="95.7" cy="494.2" r="3.1"/><circle cx="129.5" cy="511.4" r="3.1"/><circle cx="135.5" cy="510.0" r="3.1"/><circle cx="143.9" cy="556.6" r="3.1"/><circle cx="145.5" cy="511.1" r="3.1"/><circle cx="78.7" cy="504.6" r="3.1"/><circle cx="144.3" cy="547.5" r="3.1"/><circle cx="81.0" cy="495.9" r="3.1"/><circle cx="79.7" cy="477.0" r="3.1"/><circle cx="88.1" cy="498.2" r="3.1"/><circle cx="144.8" cy="552.1" r="3.1"/><circle cx="130.0" cy="504.2" r="3.1"/><circle cx="90.3" cy="531.7" r="3.1"/><circle cx="143.9" cy="519.8" r="3.1"/><circle cx="115.2" cy="558.5" r="3.1"/><circle cx="85.8" cy="486.5" r="3.1"/><circle cx="140.1" cy="553.6" r="3.1"/><circle cx="90.8" cy="490.1" r="3.1"/><circle cx="127.5" cy="566.0" r="3.1"/><circle cx="138.2" cy="531.9" r="3.1"/><circle cx="77.3" cy="494.0" r="3.1"/><circle cx="114.0" cy="557.1" r="3.1"/><circle cx="140.8" cy="491.6" r="3.1"/><circle cx="73.4" cy="498.2" r="3.1"/><circle cx="85.3" cy="508.2" r="3.1"/><circle cx="123.9" cy="530.0" r="3.1"/><circle cx="124.6" cy="568.2" r="3.1"/><circle cx="108.2" cy="544.8" r="3.1"/><circle cx="131.5" cy="563.4" r="3.1"/><circle cx="98.5" cy="540.2" r="3.1"/><circle cx="139.6" cy="559.0" r="3.1"/><circle cx="118.9" cy="509.6" r="3.1"/><circle cx="146.5" cy="559.8" r="3.1"/><circle cx="127.2" cy="529.6" r="3.1"/><circle cx="124.4" cy="521.2" r="3.1"/><circle cx="118.1" cy="563.9" r="3.1"/><circle cx="87.3" cy="488.1" r="3.1"/><circle cx="139.9" cy="537.6" r="3.1"/><circle cx="96.6" cy="538.2" r="3.1"/><circle cx="138.0" cy="509.8" r="3.1"/><circle cx="115.8" cy="502.9" r="3.1"/><circle cx="134.8" cy="556.7" r="3.1"/><circle cx="92.9" cy="488.1" r="3.1"/><circle cx="119.0" cy="520.9" r="3.1"/><circle cx="145.7" cy="516.7" r="3.1"/><circle cx="77.7" cy="474.1" r="3.1"/><circle cx="73.6" cy="484.7" r="3.1"/><circle cx="119.2" cy="516.1" r="3.1"/><circle cx="132.6" cy="567.8" r="3.1"/><circle cx="92.5" cy="505.9" r="3.1"/><circle cx="124.3" cy="523.5" r="3.1"/><circle cx="142.0" cy="543.9" r="3.1"/><circle cx="100.4" cy="528.4" r="3.1"/><circle cx="142.8" cy="517.8" r="3.1"/><circle cx="120.9" cy="491.7" r="3.1"/><circle cx="126.2" cy="553.6" r="3.1"/><circle cx="112.3" cy="550.8" r="3.1"/><circle cx="136.2" cy="506.2" r="3.1"/><circle cx="78.3" cy="515.5" r="3.1"/><circle cx="113.3" cy="548.6" r="3.1"/><circle cx="82.7" cy="486.0" r="3.1"/><circle cx="110.8" cy="544.1" r="3.1"/><circle cx="120.0" cy="523.8" r="3.1"/><circle cx="135.3" cy="527.5" r="3.1"/><circle cx="95.5" cy="509.5" r="3.1"/><circle cx="135.4" cy="561.9" r="3.1"/><circle cx="144.6" cy="523.9" r="3.1"/><circle cx="112.3" cy="521.8" r="3.1"/><circle cx="114.3" cy="520.6" r="3.1"/><circle cx="143.8" cy="564.2" r="3.1"/><circle cx="133.2" cy="561.9" r="3.1"/><circle cx="86.7" cy="493.9" r="3.1"/><circle cx="123.6" cy="503.5" r="3.1"/><circle cx="98.7" cy="533.6" r="3.1"/><circle cx="81.3" cy="522.5" r="3.1"/><circle cx="127.6" cy="552.8" r="3.1"/><circle cx="139.7" cy="502.9" r="3.1"/><circle cx="134.4" cy="513.6" r="3.1"/><circle cx="102.3" cy="540.2" r="3.1"/><circle cx="73.5" cy="491.3" r="3.1"/><circle cx="110.0" cy="547.5" r="3.1"/><circle cx="109.8" cy="540.2" r="3.1"/><circle cx="80.1" cy="474.7" r="3.1"/><circle cx="106.7" cy="548.2" r="3.1"/><circle cx="96.6" cy="518.1" r="3.1"/><circle cx="127.5" cy="511.9" r="3.1"/><circle cx="119.3" cy="511.8" r="3.1"/><circle cx="117.0" cy="521.9" r="3.1"/><circle cx="133.1" cy="511.9" r="3.1"/><circle cx="121.5" cy="528.5" r="3.1"/><circle cx="75.9" cy="490.7" r="3.1"/><circle cx="144.5" cy="528.3" r="3.1"/><circle cx="116.9" cy="547.7" r="3.1"/><circle cx="142.9" cy="513.5" r="3.1"/><circle cx="111.6" cy="531.4" r="3.1"/><circle cx="99.5" cy="499.8" r="3.1"/><circle cx="146.2" cy="566.4" r="3.1"/><circle cx="104.3" cy="519.2" r="3.1"/><circle cx="145.0" cy="495.6" r="3.1"/><circle cx="126.2" cy="518.3" r="3.1"/><circle cx="111.7" cy="483.5" r="3.1"/><circle cx="105.3" cy="538.4" r="3.1"/><circle cx="106.2" cy="497.4" r="3.1"/><circle cx="130.4" cy="524.6" r="3.1"/><circle cx="99.0" cy="498.4" r="3.1"/><circle cx="123.4" cy="528.0" r="3.1"/><circle cx="75.1" cy="477.1" r="3.1"/><circle cx="100.1" cy="519.3" r="3.1"/><circle cx="77.7" cy="483.1" r="3.1"/><circle cx="103.9" cy="497.0" r="3.1"/><circle cx="132.8" cy="508.2" r="3.1"/><circle cx="96.5" cy="526.4" r="3.1"/><circle cx="78.0" cy="479.4" r="3.1"/><circle cx="93.3" cy="485.4" r="3.1"/><circle cx="125.2" cy="528.5" r="3.1"/><circle cx="132.3" cy="501.8" r="3.1"/><circle cx="95.9" cy="511.3" r="3.1"/><circle cx="142.1" cy="561.3" r="3.1"/><circle cx="90.7" cy="507.5" r="3.1"/><circle cx="99.5" cy="507.7" r="3.1"/><circle cx="86.7" cy="527.9" r="3.1"/><circle cx="131.8" cy="525.6" r="3.1"/><circle cx="138.1" cy="499.4" r="3.1"/><circle cx="112.9" cy="528.3" r="3.1"/><circle cx="144.5" cy="536.7" r="3.1"/><circle cx="120.7" cy="495.8" r="3.1"/><circle cx="144.6" cy="538.9" r="3.1"/><circle cx="109.1" cy="525.2" r="3.1"/><circle cx="134.0" cy="538.3" r="3.1"/><circle cx="132.2" cy="513.6" r="3.1"/><circle cx="103.6" cy="485.7" r="3.1"/><circle cx="127.6" cy="571.1" r="3.1"/><circle cx="100.3" cy="487.9" r="3.1"/><circle cx="74.9" cy="481.9" r="3.1"/><circle cx="116.7" cy="493.6" r="3.1"/><circle cx="133.3" cy="519.4" r="3.1"/><circle cx="132.1" cy="509.9" r="3.1"/><circle cx="96.2" cy="497.2" r="3.1"/><circle cx="137.2" cy="523.1" r="3.1"/><circle cx="135.5" cy="554.0" r="3.1"/><circle cx="78.3" cy="498.2" r="3.1"/><circle cx="108.1" cy="518.3" r="3.1"/><circle cx="143.7" cy="530.2" r="3.1"/><circle cx="136.3" cy="501.6" r="3.1"/><circle cx="112.8" cy="524.1" r="3.1"/><circle cx="95.5" cy="502.4" r="3.1"/><circle cx="107.1" cy="543.2" r="3.1"/><circle cx="100.3" cy="525.5" r="3.1"/><circle cx="94.5" cy="505.0" r="3.1"/><circle cx="101.5" cy="538.3" r="3.1"/><circle cx="126.9" cy="504.2" r="3.1"/><circle cx="142.9" cy="527.8" r="3.1"/><circle cx="82.7" cy="480.5" r="3.1"/><circle cx="78.9" cy="493.9" r="3.1"/><circle cx="83.9" cy="483.5" r="3.1"/><circle cx="129.5" cy="553.9" r="3.1"/><circle cx="102.1" cy="541.7" r="3.1"/><circle cx="97.8" cy="536.7" r="3.1"/><circle cx="110.3" cy="550.6" r="3.1"/><circle cx="139.7" cy="526.3" r="3.1"/><circle cx="98.5" cy="521.5" r="3.1"/><circle cx="119.1" cy="491.0" r="3.1"/><circle cx="78.4" cy="495.7" r="3.1"/><circle cx="99.2" cy="517.7" r="3.1"/><circle cx="114.1" cy="497.7" r="3.1"/><circle cx="90.2" cy="528.9" r="3.1"/><circle cx="74.5" cy="489.2" r="3.1"/><circle cx="100.7" cy="530.8" r="3.1"/><circle cx="114.7" cy="504.5" r="3.1"/><circle cx="126.9" cy="531.3" r="3.1"/><circle cx="128.4" cy="501.8" r="3.1"/><circle cx="90.4" cy="501.2" r="3.1"/><circle cx="139.3" cy="490.7" r="3.1"/><circle cx="126.5" cy="502.6" r="3.1"/><circle cx="88.9" cy="502.0" r="3.1"/><circle cx="121.9" cy="550.8" r="3.1"/><circle cx="100.0" cy="537.8" r="3.1"/><circle cx="141.5" cy="538.3" r="3.1"/><circle cx="105.1" cy="524.3" r="3.1"/><circle cx="78.7" cy="499.8" r="3.1"/><circle cx="93.0" cy="526.3" r="3.1"/><circle cx="106.7" cy="546.8" r="3.1"/><circle cx="130.8" cy="523.2" r="3.1"/><circle cx="143.4" cy="488.5" r="3.1"/><circle cx="88.7" cy="529.6" r="3.1"/><circle cx="114.7" cy="525.8" r="3.1"/><circle cx="92.0" cy="530.4" r="3.1"/><circle cx="99.4" cy="492.8" r="3.1"/><circle cx="75.1" cy="495.3" r="3.1"/><circle cx="101.6" cy="501.1" r="3.1"/><circle cx="89.4" cy="496.5" r="3.1"/><circle cx="99.4" cy="505.0" r="3.1"/><circle cx="145.6" cy="532.7" r="3.1"/><circle cx="88.3" cy="506.1" r="3.1"/><circle cx="85.9" cy="526.5" r="3.1"/><circle cx="85.8" cy="497.5" r="3.1"/><circle cx="125.7" cy="498.1" r="3.1"/><circle cx="142.3" cy="507.3" r="3.1"/><circle cx="101.6" cy="495.0" r="3.1"/><circle cx="75.2" cy="486.2" r="3.1"/><circle cx="95.5" cy="513.8" r="3.1"/><circle cx="114.5" cy="552.7" r="3.1"/><circle cx="122.0" cy="567.4" r="3.1"/><circle cx="102.3" cy="519.0" r="3.1"/><circle cx="97.7" cy="513.6" r="3.1"/><circle cx="116.0" cy="518.3" r="3.1"/><circle cx="138.9" cy="528.1" r="3.1"/><circle cx="142.7" cy="548.9" r="3.1"/><circle cx="95.2" cy="507.4" r="3.1"/><circle cx="114.1" cy="554.9" r="3.1"/><circle cx="144.3" cy="554.2" r="3.1"/><circle cx="108.9" cy="527.9" r="3.1"/><circle cx="128.2" cy="524.9" r="3.1"/><circle cx="96.5" cy="488.9" r="3.1"/><circle cx="76.9" cy="477.9" r="3.1"/><circle cx="129.9" cy="519.5" r="3.1"/><circle cx="122.3" cy="494.3" r="3.1"/><circle cx="123.6" cy="513.3" r="3.1"/><circle cx="112.8" cy="519.8" r="3.1"/><circle cx="100.1" cy="502.2" r="3.1"/><circle cx="132.1" cy="555.7" r="3.1"/><circle cx="93.4" cy="510.5" r="3.1"/><circle cx="118.4" cy="548.3" r="3.1"/><circle cx="124.1" cy="526.1" r="3.1"/><circle cx="142.0" cy="496.4" r="3.1"/><circle cx="108.7" cy="483.1" r="3.1"/><circle cx="78.0" cy="489.4" r="3.1"/><circle cx="81.0" cy="478.5" r="3.1"/><circle cx="111.6" cy="552.8" r="3.1"/><circle cx="143.3" cy="511.6" r="3.1"/><circle cx="121.3" cy="552.9" r="3.1"/><circle cx="99.4" cy="535.4" r="3.1"/><circle cx="80.1" cy="485.4" r="3.1"/><circle cx="118.3" cy="560.6" r="3.1"/><circle cx="123.8" cy="516.7" r="3.1"/><circle cx="122.0" cy="513.3" r="3.1"/><circle cx="117.1" cy="528.8" r="3.1"/><circle cx="116.6" cy="531.0" r="3.1"/><circle cx="141.9" cy="486.3" r="3.1"/><circle cx="142.3" cy="554.7" r="3.1"/><circle cx="118.3" cy="562.1" r="3.1"/><circle cx="97.6" cy="502.8" r="3.1"/><circle cx="85.7" cy="483.9" r="3.1"/><circle cx="81.8" cy="482.7" r="3.1"/><circle cx="142.6" cy="532.6" r="3.1"/><circle cx="98.9" cy="490.8" r="3.1"/><circle cx="142.0" cy="510.1" r="3.1"/><circle cx="103.5" cy="499.4" r="3.1"/><circle cx="139.2" cy="496.4" r="3.1"/><circle cx="116.4" cy="526.1" r="3.1"/><circle cx="78.8" cy="507.7" r="3.1"/><circle cx="87.8" cy="508.3" r="3.1"/><circle cx="110.5" cy="500.7" r="3.1"/><circle cx="102.6" cy="532.8" r="3.1"/><circle cx="83.9" cy="524.6" r="3.1"/><circle cx="120.3" cy="556.6" r="3.1"/><circle cx="121.1" cy="560.5" r="3.1"/><circle cx="128.2" cy="520.2" r="3.1"/><circle cx="76.1" cy="480.3" r="3.1"/><circle cx="91.0" cy="498.3" r="3.1"/><circle cx="134.4" cy="504.1" r="3.1"/><circle cx="142.1" cy="547.0" r="3.1"/><circle cx="130.6" cy="515.5" r="3.1"/><circle cx="128.4" cy="509.1" r="3.1"/><circle cx="81.0" cy="503.3" r="3.1"/><circle cx="122.0" cy="526.3" r="3.1"/><circle cx="112.3" cy="555.7" r="3.1"/><circle cx="116.4" cy="523.5" r="3.1"/><circle cx="100.4" cy="543.3" r="3.1"/><circle cx="104.5" cy="533.4" r="3.1"/><circle cx="97.1" cy="486.3" r="3.1"/><circle cx="87.1" cy="525.0" r="3.1"/><circle cx="129.4" cy="529.8" r="3.1"/><circle cx="139.5" cy="564.3" r="3.1"/><circle cx="94.1" cy="496.5" r="3.1"/><circle cx="92.6" cy="499.8" r="3.1"/><circle cx="136.5" cy="557.3" r="3.1"/><circle cx="142.8" cy="522.0" r="3.1"/><circle cx="73.9" cy="474.2" r="3.1"/><circle cx="131.6" cy="569.5" r="3.1"/><circle cx="134.5" cy="512.1" r="3.1"/><circle cx="97.3" cy="506.0" r="3.1"/><circle cx="111.5" cy="504.8" r="3.1"/><circle cx="90.4" cy="493.0" r="3.1"/><circle cx="116.6" cy="545.9" r="3.1"/><circle cx="142.9" cy="490.4" r="3.1"/><circle cx="141.3" cy="521.9" r="3.1"/><circle cx="114.7" cy="500.7" r="3.1"/><circle cx="106.6" cy="531.9" r="3.1"/><circle cx="135.5" cy="517.9" r="3.1"/><circle cx="75.3" cy="497.3" r="3.1"/><circle cx="107.5" cy="534.0" r="3.1"/><circle cx="138.3" cy="529.7" r="3.1"/><circle cx="103.4" cy="525.5" r="3.1"/><circle cx="140.5" cy="494.5" r="3.1"/><circle cx="142.2" cy="557.1" r="3.1"/><circle cx="98.1" cy="527.5" r="3.1"/><circle cx="92.3" cy="529.0" r="3.1"/><circle cx="119.4" cy="517.7" r="3.1"/><circle cx="78.9" cy="521.2" r="3.1"/><circle cx="108.2" cy="535.7" r="3.1"/><circle cx="145.4" cy="563.6" r="3.1"/><circle cx="123.4" cy="551.5" r="3.1"/><circle cx="141.9" cy="536.0" r="3.1"/><circle cx="123.5" cy="566.1" r="3.1"/><circle cx="144.2" cy="549.2" r="3.1"/><circle cx="97.1" cy="499.2" r="3.1"/><circle cx="111.3" cy="520.2" r="3.1"/><circle cx="90.2" cy="504.0" r="3.1"/><circle cx="77.4" cy="476.2" r="3.1"/><circle cx="98.7" cy="524.2" r="3.1"/><circle cx="104.6" cy="540.2" r="3.1"/><circle cx="129.2" cy="527.0" r="3.1"/><circle cx="120.1" cy="565.7" r="3.1"/><circle cx="129.6" cy="536.4" r="3.1"/><circle cx="124.1" cy="515.2" r="3.1"/><circle cx="115.1" cy="546.1" r="3.1"/><circle cx="102.3" cy="536.6" r="3.1"/><circle cx="77.6" cy="510.5" r="3.1"/><circle cx="108.6" cy="530.3" r="3.1"/><circle cx="81.1" cy="501.7" r="3.1"/><circle cx="99.5" cy="515.1" r="3.1"/><circle cx="106.2" cy="518.8" r="3.1"/><circle cx="104.7" cy="537.0" r="3.1"/><circle cx="118.1" cy="493.3" r="3.1"/><circle cx="117.5" cy="517.5" r="3.1"/><circle cx="77.8" cy="501.3" r="3.1"/><circle cx="146.0" cy="493.5" r="3.1"/><circle cx="97.7" cy="515.4" r="3.1"/><circle cx="112.8" cy="529.9" r="3.1"/><circle cx="117.1" cy="558.1" r="3.1"/><circle cx="95.4" cy="530.8" r="3.1"/><circle cx="110.5" cy="502.5" r="3.1"/><circle cx="109.9" cy="518.3" r="3.1"/><circle cx="93.5" cy="490.3" r="3.1"/><circle cx="137.2" cy="555.4" r="3.1"/><circle cx="127.9" cy="516.9" r="3.1"/><circle cx="101.9" cy="526.8" r="3.1"/><circle cx="140.8" cy="555.4" r="3.1"/><circle cx="144.8" cy="525.9" r="3.1"/><circle cx="104.7" cy="548.0" r="3.1"/><circle cx="139.5" cy="539.1" r="3.1"/><circle cx="73.5" cy="493.2" r="3.1"/><circle cx="125.8" cy="520.8" r="3.1"/><circle cx="75.8" cy="473.8" r="3.1"/><circle cx="145.7" cy="508.5" r="3.1"/><circle cx="80.6" cy="499.9" r="3.1"/><circle cx="99.3" cy="532.1" r="3.1"/><circle cx="143.9" cy="561.7" r="3.1"/><circle cx="146.9" cy="555.7" r="3.1"/><circle cx="96.3" cy="532.3" r="3.1"/><circle cx="103.1" cy="489.5" r="3.1"/><circle cx="133.9" cy="540.0" r="3.1"/><circle cx="117.3" cy="554.2" r="3.1"/><circle cx="122.8" cy="569.4" r="3.1"/><circle cx="110.3" cy="522.5" r="3.1"/><circle cx="146.3" cy="551.0" r="3.1"/><circle cx="110.0" cy="552.2" r="3.1"/><circle cx="105.4" cy="500.8" r="3.1"/><circle cx="138.5" cy="519.7" r="3.1"/><circle cx="120.9" cy="518.4" r="3.1"/><circle cx="90.8" cy="526.7" r="3.1"/><circle cx="106.8" cy="482.9" r="3.1"/><circle cx="134.0" cy="521.1" r="3.1"/><circle cx="129.8" cy="532.4" r="3.1"/><circle cx="79.4" cy="480.3" r="3.1"/><circle cx="146.4" cy="529.3" r="3.1"/><circle cx="122.3" cy="486.9" r="3.1"/><circle cx="114.4" cy="499.2" r="3.1"/><circle cx="142.3" cy="492.0" r="3.1"/><circle cx="81.7" cy="506.6" r="3.1"/><circle cx="106.2" cy="540.2" r="3.1"/><circle cx="78.1" cy="514.0" r="3.1"/><circle cx="146.4" cy="491.2" r="3.1"/><circle cx="75.9" cy="499.8" r="3.1"/><circle cx="94.0" cy="513.3" r="3.1"/><circle cx="97.6" cy="493.9" r="3.1"/><circle cx="137.9" cy="507.4" r="3.1"/><circle cx="130.9" cy="527.2" r="3.1"/><circle cx="109.1" cy="505.7" r="3.1"/><circle cx="128.4" cy="521.8" r="3.1"/><circle cx="130.3" cy="498.8" r="3.1"/><circle cx="142.1" cy="524.3" r="3.1"/><circle cx="104.7" cy="531.2" r="3.1"/><circle cx="106.6" cy="535.9" r="3.1"/><circle cx="117.5" cy="506.3" r="3.1"/><circle cx="73.6" cy="480.1" r="3.1"/><circle cx="132.2" cy="517.7" r="3.1"/><circle cx="145.9" cy="530.9" r="3.1"/><circle cx="101.7" cy="498.7" r="3.1"/><circle cx="76.3" cy="484.1" r="3.1"/><circle cx="146.2" cy="549.3" r="3.1"/><circle cx="94.8" cy="532.3" r="3.1"/><circle cx="77.8" cy="481.0" r="3.1"/><circle cx="125.8" cy="524.2" r="3.1"/><circle cx="111.5" cy="498.8" r="3.1"/><circle cx="125.7" cy="566.7" r="3.1"/><circle cx="135.7" cy="560.0" r="3.1"/><circle cx="117.5" cy="519.1" r="3.1"/><circle cx="82.4" cy="484.5" r="3.1"/><circle cx="92.5" cy="533.3" r="3.1"/><circle cx="137.0" cy="526.9" r="3.1"/><circle cx="115.7" cy="497.0" r="3.1"/><circle cx="117.8" cy="495.4" r="3.1"/><circle cx="92.6" cy="507.7" r="3.1"/><circle cx="118.7" cy="529.8" r="3.1"/><circle cx="120.2" cy="558.2" r="3.1"/><circle cx="94.1" cy="529.0" r="3.1"/><circle cx="118.3" cy="526.4" r="3.1"/><circle cx="145.7" cy="521.0" r="3.1"/><circle cx="138.7" cy="488.9" r="3.1"/><circle cx="107.4" cy="526.8" r="3.1"/><circle cx="108.6" cy="500.1" r="3.1"/><circle cx="84.1" cy="494.4" r="3.1"/><circle cx="113.0" cy="504.8" r="3.1"/><circle cx="73.3" cy="476.3" r="3.1"/><circle cx="133.4" cy="498.8" r="3.1"/><circle cx="73.6" cy="487.7" r="3.1"/><circle cx="141.3" cy="519.7" r="3.1"/><circle cx="119.8" cy="527.9" r="3.1"/><circle cx="135.2" cy="524.7" r="3.1"/><circle cx="126.4" cy="569.1" r="3.1"/><circle cx="120.9" cy="502.7" r="3.1"/><circle cx="133.8" cy="555.2" r="3.1"/><circle cx="82.7" cy="496.9" r="3.1"/><circle cx="98.5" cy="529.6" r="3.1"/><circle cx="111.5" cy="545.5" r="3.1"/><circle cx="97.2" cy="507.5" r="3.1"/><circle cx="98.2" cy="495.5" r="3.1"/><circle cx="78.1" cy="485.1" r="3.1"/><circle cx="112.9" cy="545.0" r="3.1"/><circle cx="129.8" cy="568.8" r="3.1"/><circle cx="106.7" cy="516.0" r="3.1"/><circle cx="137.9" cy="505.9" r="3.1"/><circle cx="122.1" cy="515.3" r="3.1"/><circle cx="88.8" cy="486.7" r="3.1"/><circle cx="135.1" cy="516.3" r="3.1"/><circle cx="130.4" cy="506.5" r="3.1"/><circle cx="127.6" cy="506.5" r="3.1"/><circle cx="133.4" cy="564.3" r="3.1"/><circle cx="143.7" cy="544.2" r="3.1"/><circle cx="123.5" cy="553.3" r="3.1"/><circle cx="119.6" cy="563.8" r="3.1"/><circle cx="88.0" cy="490.4" r="3.1"/><circle cx="119.7" cy="493.9" r="3.1"/><circle cx="146.9" cy="553.5" r="3.1"/><circle cx="104.1" cy="529.4" r="3.1"/><circle cx="133.1" cy="560.2" r="3.1"/><circle cx="143.9" cy="506.9" r="3.1"/><circle cx="130.7" cy="566.5" r="3.1"/><circle cx="140.3" cy="557.1" r="3.1"/><circle cx="145.2" cy="545.1" r="3.1"/><circle cx="102.6" cy="520.4" r="3.1"/><circle cx="100.0" cy="495.6" r="3.1"/><circle cx="119.6" cy="514.4" r="3.1"/><circle cx="119.3" cy="505.6" r="3.1"/><circle cx="130.6" cy="538.5" r="3.1"/><circle cx="133.4" cy="523.5" r="3.1"/><circle cx="102.3" cy="523.4" r="3.1"/><circle cx="144.4" cy="541.6" r="3.1"/><circle cx="109.7" cy="535.2" r="3.1"/><circle cx="127.9" cy="513.5" r="3.1"/><circle cx="120.7" cy="487.8" r="3.1"/><circle cx="98.1" cy="489.1" r="3.1"/><circle cx="85.8" cy="523.3" r="3.1"/><circle cx="115.3" cy="528.9" r="3.1"/><circle cx="94.8" cy="526.2" r="3.1"/><circle cx="138.9" cy="494.7" r="3.1"/><circle cx="103.9" cy="521.9" r="3.1"/><circle cx="129.4" cy="570.2" r="3.1"/><circle cx="139.6" cy="534.8" r="3.1"/><circle cx="140.4" cy="531.3" r="3.1"/><circle cx="139.9" cy="519.7" r="3.1"/><circle cx="136.9" cy="564.4" r="3.1"/><circle cx="130.8" cy="500.4" r="3.1"/><circle cx="75.1" cy="492.6" r="3.1"/><circle cx="146.5" cy="496.5" r="3.1"/><circle cx="102.7" cy="545.8" r="3.1"/><circle cx="113.5" cy="518.2" r="3.1"/><circle cx="138.2" cy="562.8" r="3.1"/><circle cx="93.2" cy="502.2" r="3.1"/><circle cx="96.1" cy="491.8" r="3.1"/><circle cx="95.6" cy="500.5" r="3.1"/><circle cx="99.6" cy="512.7" r="3.1"/><circle cx="142.0" cy="534.4" r="3.1"/><circle cx="108.0" cy="550.2" r="3.1"/><circle cx="94.8" cy="534.9" r="3.1"/><circle cx="82.2" cy="498.5" r="3.1"/><circle cx="141.1" cy="490.1" r="3.1"/><circle cx="103.6" cy="487.5" r="3.1"/><circle cx="92.7" cy="494.3" r="3.1"/><circle cx="146.4" cy="526.8" r="3.1"/><circle cx="110.2" cy="482.3" r="3.1"/><circle cx="146.8" cy="515.2" r="3.1"/><circle cx="94.6" cy="487.3" r="3.1"/><circle cx="94.5" cy="498.3" r="3.1"/><circle cx="73.4" cy="500.0" r="3.1"/><circle cx="106.7" cy="521.5" r="3.1"/><circle cx="129.5" cy="534.5" r="3.1"/><circle cx="137.9" cy="497.9" r="3.1"/><circle cx="140.5" cy="507.6" r="3.1"/><circle cx="79.6" cy="492.2" r="3.1"/><circle cx="80.2" cy="484.0" r="3.1"/><circle cx="116.6" cy="490.9" r="3.1"/><circle cx="91.8" cy="501.9" r="3.1"/><circle cx="136.9" cy="524.9" r="3.1"/><circle cx="142.4" cy="494.8" r="3.1"/><circle cx="126.8" cy="526.2" r="3.1"/><circle cx="119.9" cy="531.3" r="3.1"/><circle cx="88.4" cy="527.0" r="3.1"/><circle cx="108.9" cy="520.0" r="3.1"/><circle cx="125.3" cy="512.9" r="3.1"/><circle cx="104.4" cy="545.3" r="3.1"/><circle cx="131.7" cy="558.9" r="3.1"/><circle cx="115.0" cy="524.1" r="3.1"/><circle cx="144.3" cy="566.3" r="3.1"/><circle cx="120.0" cy="525.7" r="3.1"/><circle cx="147.0" cy="545.6" r="3.1"/><circle cx="107.1" cy="529.6" r="3.1"/><circle cx="148.4" cy="558.0" r="3.1"/><circle cx="161.6" cy="517.8" r="3.1"/><circle cx="151.7" cy="494.9" r="3.1"/><circle cx="161.9" cy="510.8" r="3.1"/><circle cx="157.7" cy="541.0" r="3.1"/><circle cx="156.9" cy="545.4" r="3.1"/><circle cx="152.0" cy="547.5" r="3.1"/><circle cx="152.9" cy="523.8" r="3.1"/><circle cx="149.7" cy="513.9" r="3.1"/><circle cx="163.4" cy="480.9" r="3.1"/><circle cx="150.5" cy="526.1" r="3.1"/><circle cx="159.2" cy="538.9" r="3.1"/><circle cx="159.7" cy="541.8" r="3.1"/><circle cx="158.2" cy="491.8" r="3.1"/><circle cx="147.1" cy="523.0" r="3.1"/><circle cx="161.1" cy="533.3" r="3.1"/><circle cx="147.7" cy="526.7" r="3.1"/><circle cx="152.5" cy="558.2" r="3.1"/><circle cx="152.9" cy="553.6" r="3.1"/><circle cx="149.4" cy="565.6" r="3.1"/><circle cx="153.3" cy="517.1" r="3.1"/><circle cx="158.3" cy="505.7" r="3.1"/><circle cx="163.1" cy="487.5" r="3.1"/><circle cx="161.6" cy="544.5" r="3.1"/><circle cx="150.5" cy="528.4" r="3.1"/><circle cx="148.5" cy="550.3" r="3.1"/><circle cx="155.6" cy="522.0" r="3.1"/><circle cx="150.9" cy="523.6" r="3.1"/><circle cx="152.4" cy="510.0" r="3.1"/><circle cx="154.1" cy="519.2" r="3.1"/><circle cx="148.6" cy="553.1" r="3.1"/><circle cx="147.8" cy="509.5" r="3.1"/><circle cx="151.3" cy="545.1" r="3.1"/><circle cx="147.7" cy="547.2" r="3.1"/><circle cx="161.6" cy="548.4" r="3.1"/><circle cx="157.7" cy="487.7" r="3.1"/><circle cx="150.4" cy="511.4" r="3.1"/><circle cx="156.7" cy="518.9" r="3.1"/><circle cx="149.8" cy="556.1" r="3.1"/><circle cx="155.3" cy="507.9" r="3.1"/><circle cx="158.8" cy="482.1" r="3.1"/><circle cx="151.2" cy="516.9" r="3.1"/><circle cx="160.3" cy="487.2" r="3.1"/><circle cx="162.7" cy="514.6" r="3.1"/><circle cx="147.0" cy="494.0" r="3.1"/><circle cx="148.7" cy="491.6" r="3.1"/><circle cx="161.6" cy="553.5" r="3.1"/><circle cx="151.7" cy="551.4" r="3.1"/><circle cx="152.4" cy="531.1" r="3.1"/><circle cx="161.4" cy="538.6" r="3.1"/><circle cx="151.1" cy="563.2" r="3.1"/><circle cx="155.3" cy="550.9" r="3.1"/><circle cx="164.7" cy="483.5" r="3.1"/><circle cx="151.9" cy="490.5" r="3.1"/><circle cx="150.9" cy="504.8" r="3.1"/><circle cx="159.8" cy="543.8" r="3.1"/><circle cx="149.4" cy="502.3" r="3.1"/><circle cx="154.6" cy="529.6" r="3.1"/><circle cx="149.2" cy="507.2" r="3.1"/><circle cx="155.8" cy="516.5" r="3.1"/><circle cx="157.3" cy="551.9" r="3.1"/><circle cx="154.6" cy="559.5" r="3.1"/><circle cx="161.1" cy="490.9" r="3.1"/><circle cx="153.5" cy="561.7" r="3.1"/><circle cx="158.5" cy="510.2" r="3.1"/><circle cx="148.8" cy="519.9" r="3.1"/><circle cx="107.6" cy="513.0" r="3.1"/><circle cx="117.4" cy="544.3" r="3.1"/><circle cx="155.8" cy="539.0" r="3.1"/><circle cx="143.7" cy="483.1" r="3.1"/><circle cx="106.4" cy="480.7" r="3.1"/><circle cx="111.8" cy="481.4" r="3.1"/><circle cx="122.7" cy="484.0" r="3.1"/><circle cx="116.1" cy="487.5" r="3.1"/><circle cx="137.2" cy="484.5" r="3.1"/><circle cx="137.2" cy="488.0" r="3.1"/><circle cx="138.5" cy="493.6" r="3.1"/><circle cx="103.5" cy="484.7" r="3.1"/><circle cx="113.5" cy="416.8" r="3.1"/><circle cx="146.8" cy="418.5" r="3.1"/><circle cx="149.6" cy="426.6" r="3.1"/><circle cx="148.5" cy="432.8" r="3.1"/><circle cx="143.5" cy="438.3" r="3.1"/><circle cx="145.7" cy="438.3" r="3.1"/><circle cx="80.2" cy="427.0" r="3.1"/><circle cx="75.8" cy="430.2" r="3.1"/><circle cx="79.9" cy="430.9" r="3.1"/><circle cx="78.8" cy="436.0" r="3.1"/><circle cx="78.8" cy="438.9" r="3.1"/><circle cx="79.6" cy="441.1" r="3.1"/><circle cx="73.8" cy="444.3" r="3.1"/><circle cx="113.8" cy="436.3" r="3.1"/><circle cx="109.1" cy="442.6" r="3.1"/><circle cx="114.7" cy="446.2" r="3.1"/><circle cx="99.2" cy="450.9" r="3.1"/><circle cx="108.4" cy="451.4" r="3.1"/><circle cx="111.3" cy="449.9" r="3.1"/><circle cx="114.2" cy="452.1" r="3.1"/><circle cx="78.5" cy="452.1" r="3.1"/><circle cx="77.3" cy="455.0" r="3.1"/><circle cx="103.0" cy="454.3" r="3.1"/><circle cx="100.1" cy="458.9" r="3.1"/><circle cx="114.7" cy="455.0" r="3.1"/><circle cx="112.0" cy="457.9" r="3.1"/><circle cx="115.0" cy="459.4" r="3.1"/><circle cx="80.2" cy="463.3" r="3.1"/><circle cx="91.0" cy="462.6" r="3.1"/><circle cx="100.7" cy="464.5" r="3.1"/><circle cx="103.6" cy="467.4" r="3.1"/><circle cx="106.9" cy="467.7" r="3.1"/><circle cx="72.9" cy="469.6" r="3.1"/><circle cx="77.7" cy="471.8" r="3.1"/><circle cx="90.1" cy="472.2" r="3.1"/><circle cx="112.8" cy="471.4" r="3.1"/><circle cx="118.6" cy="471.8" r="3.1"/><circle cx="123.4" cy="473.2" r="3.1"/><circle cx="96.7" cy="474.0" r="3.1"/><circle cx="74.1" cy="472.5" r="3.1"/><circle cx="156.1" cy="459.9" r="3.1"/><circle cx="158.7" cy="475.2" r="3.1"/><circle cx="154.2" cy="479.9" r="3.1"/><circle cx="143.6" cy="483.2" r="3.1"/><circle cx="166.3" cy="480.3" r="3.1"/><circle cx="163.4" cy="481.8" r="3.1"/><circle cx="160.4" cy="481.0" r="3.1"/><circle cx="152.4" cy="484.7" r="3.1"/><circle cx="156.1" cy="485.4" r="3.1"/><circle cx="159.0" cy="486.1" r="3.1"/><circle cx="147.3" cy="489.1" r="3.1"/><circle cx="153.9" cy="489.8" r="3.1"/><circle cx="157.5" cy="489.8" r="3.1"/><circle cx="160.4" cy="490.5" r="3.1"/><circle cx="166.0" cy="492.3" r="3.1"/><circle cx="161.9" cy="493.4" r="3.1"/><circle cx="156.8" cy="493.4" r="3.1"/><circle cx="151.7" cy="492.7" r="3.1"/><circle cx="145.8" cy="493.4" r="3.1"/><circle cx="142.9" cy="495.6" r="3.1"/><circle cx="148.0" cy="497.1" r="3.1"/><circle cx="174.7" cy="494.9" r="3.1"/><circle cx="172.1" cy="496.4" r="3.1"/><circle cx="175.8" cy="499.3" r="3.1"/><circle cx="186.7" cy="494.9" r="3.1"/><circle cx="200.1" cy="498.2" r="3.1"/><circle cx="196.2" cy="499.7" r="3.1"/><circle cx="193.7" cy="499.7" r="3.1"/><circle cx="147.3" cy="502.9" r="3.1"/><circle cx="156.1" cy="503.6" r="3.1"/><circle cx="152.4" cy="505.1" r="3.1"/><circle cx="162.6" cy="505.1" r="3.1"/><circle cx="166.3" cy="505.4" r="3.1"/><circle cx="172.4" cy="506.6" r="3.1"/><circle cx="160.4" cy="508.8" r="3.1"/><circle cx="164.1" cy="508.8" r="3.1"/><circle cx="175.0" cy="511.2" r="3.1"/><circle cx="183.8" cy="509.8" r="3.1"/><circle cx="187.4" cy="512.4" r="3.1"/><circle cx="191.8" cy="511.2" r="3.1"/><circle cx="203.8" cy="509.2" r="3.1"/><circle cx="208.6" cy="509.2" r="3.1"/><circle cx="164.8" cy="512.7" r="3.1"/><circle cx="157.5" cy="512.4" r="3.1"/><circle cx="151.7" cy="509.5" r="3.1"/><circle cx="145.8" cy="508.0" r="3.1"/><circle cx="142.9" cy="508.0" r="3.1"/><circle cx="148.8" cy="513.1" r="3.1"/><circle cx="194.7" cy="517.2" r="3.1"/><circle cx="210.1" cy="516.1" r="3.1"/><circle cx="214.2" cy="516.8" r="3.1"/><circle cx="220.0" cy="519.0" r="3.1"/><circle cx="228.3" cy="518.5" r="3.1"/><circle cx="157.5" cy="516.8" r="3.1"/><circle cx="164.1" cy="516.8" r="3.1"/><circle cx="142.9" cy="515.3" r="3.1"/><circle cx="153.1" cy="516.8" r="3.1"/><circle cx="191.1" cy="521.2" r="3.1"/><circle cx="210.1" cy="520.4" r="3.1"/><circle cx="230.5" cy="521.9" r="3.1"/><circle cx="232.7" cy="524.8" r="3.1"/><circle cx="188.2" cy="526.0" r="3.1"/><circle cx="193.3" cy="524.8" r="3.1"/><circle cx="196.2" cy="527.7" r="3.1"/><circle cx="193.7" cy="529.9" r="3.1"/><circle cx="205.0" cy="528.0" r="3.1"/><circle cx="208.3" cy="527.0" r="3.1"/><circle cx="215.6" cy="526.3" r="3.1"/><circle cx="219.6" cy="526.3" r="3.1"/><circle cx="202.0" cy="533.9" r="3.1"/><circle cx="208.3" cy="535.5" r="3.1"/><circle cx="215.9" cy="535.5" r="3.1"/><circle cx="234.6" cy="536.2" r="3.1"/><circle cx="192.1" cy="540.9" r="3.1"/><circle cx="177.7" cy="530.7" r="3.1"/><circle cx="173.6" cy="533.6" r="3.1"/><circle cx="178.7" cy="535.0" r="3.1"/><circle cx="179.4" cy="542.6" r="3.1"/><circle cx="181.3" cy="550.7" r="3.1"/><circle cx="193.3" cy="552.6" r="3.1"/><circle cx="183.1" cy="558.1" r="3.1"/><circle cx="174.3" cy="554.7" r="3.1"/><circle cx="170.7" cy="556.2" r="3.1"/><circle cx="171.4" cy="558.4" r="3.1"/><circle cx="167.0" cy="554.7" r="3.1"/><circle cx="164.1" cy="558.4" r="3.1"/><circle cx="173.1" cy="565.0" r="3.1"/><circle cx="152.4" cy="584.2" r="3.1"/><circle cx="160.4" cy="585.0" r="3.1"/><circle cx="168.5" cy="526.3" r="3.1"/><circle cx="166.0" cy="529.9" r="3.1"/><circle cx="167.7" cy="521.2" r="3.1"/><circle cx="164.1" cy="521.2" r="3.1"/><circle cx="160.4" cy="521.9" r="3.1"/><circle cx="163.4" cy="535.8" r="3.1"/><circle cx="156.1" cy="538.7" r="3.1"/><circle cx="164.1" cy="538.7" r="3.1"/><circle cx="167.0" cy="542.6" r="3.1"/><circle cx="158.2" cy="508.8" r="3.1"/><circle cx="64.2" cy="485.3" r="3.1"/><circle cx="63.9" cy="494.8" r="3.1"/>
</g>
<path d="M70.0 572.4L74.9 567.5L79.8 572.4L74.9 577.3Z" fill="#000"/>
<path d="M97.9 298.7L102.8 293.8L107.7 298.7L102.8 303.6Z" fill="#000"/>
<path d="M345.0 529.2L349.9 524.3L354.8 529.2L349.9 534.1Z" fill="#000"/>
<path d="M121.3 522.8L126.2 517.9L131.1 522.8L126.2 527.7Z" fill="#000"/>
<g stroke="#f01e32" stroke-opacity="0.9" stroke-width="1.45" fill="none">
<path d="M140.1 613.2V0" stroke-dasharray="5.0 2.17"/>
<path d="M35.5 412.9H642.2" stroke-dasharray="4.994 2.16"/>
</g>
<g stroke="#2b2b2b" stroke-width="0.9" fill="none">
<path d="M35.5 0V613.2H642.2"/>
<path d="M63.3 613.2v3.4"/>
<path d="M35.5 585.2h-3.4"/>
<path d="M195.3 613.2v3.4"/>
<path d="M35.5 451.7h-3.4"/>
<path d="M327.3 613.2v3.4"/>
<path d="M35.5 318.1h-3.4"/>
<path d="M459.4 613.2v3.4"/>
<path d="M35.5 184.6h-3.4"/>
<path d="M591.4 613.2v3.4"/>
<path d="M35.5 51.0h-3.4"/>
</g>
<g font-size="9.8" fill="#262626">
<text x="63.3" y="626.0" text-anchor="middle">0</text>
<text x="28.4" y="588.4" text-anchor="end">0</text>
<text x="195.3" y="626.0" text-anchor="middle">200</text>
<text x="28.4" y="454.9" text-anchor="end">200</text>
<text x="327.3" y="626.0" text-anchor="middle">400</text>
<text x="28.4" y="321.3" text-anchor="end">400</text>
<text x="459.4" y="626.0" text-anchor="middle">600</text>
<text x="28.4" y="187.8" text-anchor="end">600</text>
<text x="591.4" y="626.0" text-anchor="middle">800</text>
<text x="28.4" y="54.2" text-anchor="end">800</text>
</g>
<g fill="#1a1a1a">
<text x="148.7" y="126.0" font-size="11.5" textLength="228.8" lengthAdjust="spacingAndGlyphs" >The max PU ratio for Category 1 is:117.39</text>
<text x="148.7" y="140.0" font-size="11.5" textLength="228.8" lengthAdjust="spacingAndGlyphs" >The mean PU ratio for Category 1 is:60.14</text>
<text x="148.7" y="153.9" font-size="11.5" textLength="218.3" lengthAdjust="spacingAndGlyphs" >The min PU ratio for Category 1 is:16.98</text>
<text x="148.0" y="367.2" font-size="11.5" textLength="301.1" lengthAdjust="spacingAndGlyphs" >The min PU ratio After 90 days for Category 1 is:257.47</text>
<text x="148.0" y="380.6" font-size="11.5" textLength="312.0" lengthAdjust="spacingAndGlyphs" >The mean PU ratio After 90 days for Category 1 is:428.83</text>
<text x="148.0" y="393.6" font-size="11.5" textLength="305.6" lengthAdjust="spacingAndGlyphs" >The max PU ratio After 90 days for Category 1 is:835.35</text>
</g>
<clipPath id="cx"><rect x="300" y="620" width="90" height="17.7"/></clipPath>
<g clip-path="url(#cx)"> <text x="320.2" y="639.0" font-size="10.8" fill="#262626" textLength="36.9" lengthAdjust="spacingAndGlyphs">PU Ratio</text></g>
<text transform="translate(6,336.7)  rotate(-90)" font-size="10.8" fill="#262626" textLength="58.8" lengthAdjust="spacingAndGlyphs">PU_future90d</text>
<text x="647.6" y="289.3" font-size="9.6" fill="#262626" textLength="38.75" lengthAdjust="spacingAndGlyphs">labels90</text>
<circle cx="660.6" cy="300.4" r="3.35" fill="#254ea4" fill-opacity="0.95"/>
<text x="676.85" y="302.7" font-size="8.8" fill="#262626" textLength="6.07" lengthAdjust="spacingAndGlyphs">0</text>
<circle cx="660.6" cy="314.0" r="3.35" fill="#45b56e" fill-opacity="0.95"/>
<text x="676.85" y="316.3" font-size="8.8" fill="#262626" textLength="6.07" lengthAdjust="spacingAndGlyphs">1</text>
<circle cx="660.6" cy="327.4" r="3.35" fill="#e4233a" fill-opacity="0.95"/>
<text x="676.85" y="329.7" font-size="8.8" fill="#262626" textLength="6.07" lengthAdjust="spacingAndGlyphs">2</text>
<circle cx="660.6" cy="340.9" r="3.35" fill="#62459d" fill-opacity="0.95"/>
<text x="676.85" y="343.2" font-size="8.8" fill="#262626" textLength="6.07" lengthAdjust="spacingAndGlyphs">3</text>
<text x="322" y="675" font-family="'Liberation Serif',serif" font-size="20.5" fill="#111">A.</text>
<rect x="120.31" y="1077.35" width="16.81" height="8.25" fill="#254ea4"/>
<rect x="137.12" y="1066.28" width="16.81" height="11.07" fill="#45b56e"/>
<rect x="153.93" y="1077.35" width="16.81" height="6.37" fill="#e4233a"/>
<rect x="170.73" y="1077.35" width="16.81" height="7.62" fill="#62459d"/>
<rect x="254.76" y="806.09" width="16.81" height="271.26" fill="#254ea4"/>
<rect x="271.57" y="990.66" width="16.81" height="86.69" fill="#45b56e"/>
<rect x="288.38" y="1076.10" width="16.81" height="1.25" fill="#e4233a"/>
<rect x="305.18" y="745.83" width="16.81" height="331.52" fill="#62459d"/>
<rect x="389.21" y="1067.74" width="16.81" height="9.61" fill="#254ea4"/>
<rect x="406.02" y="1037.87" width="16.81" height="39.48" fill="#45b56e"/>
<rect x="422.82" y="1077.35" width="16.81" height="3.45" fill="#e4233a"/>
<rect x="439.63" y="1072.34" width="16.81" height="5.01" fill="#62459d"/>
<rect x="523.66" y="1048.84" width="16.81" height="28.51" fill="#254ea4"/>
<rect x="540.47" y="1055.31" width="16.81" height="22.04" fill="#45b56e"/>
<rect x="557.27" y="1075.37" width="16.81" height="1.98" fill="#e4233a"/>
<rect x="574.08" y="1056.88" width="16.81" height="20.47" fill="#62459d"/>
<rect x="86.7" y="728.8" width="537.8" height="374.29999999999995" fill="none" stroke="#2b2b2b" stroke-width="0.75"/>
<g stroke="#2b2b2b" stroke-width="0.7">
<path d="M86.7 1077.3h-2.4"/>
<path d="M86.7 1025.1h-2.4"/>
<path d="M86.7 972.9h-2.4"/>
<path d="M86.7 920.7h-2.4"/>
<path d="M86.7 868.4h-2.4"/>
<path d="M86.7 816.2h-2.4"/>
<path d="M86.7 764.0h-2.4"/>
<path d="M153.9 1103.1v2.4"/>
<path d="M288.4 1103.1v2.4"/>
<path d="M422.8 1103.1v2.4"/>
<path d="M557.3 1103.1v2.4"/>
</g>
<g font-size="7.3" fill="#1a1a1a">
<text x="81.4" y="1079.9" text-anchor="end">0</text>
<text x="81.4" y="1027.7" text-anchor="end">500</text>
<text x="81.4" y="975.5" text-anchor="end">1000</text>
<text x="81.4" y="923.3" text-anchor="end">1500</text>
<text x="81.4" y="871.0" text-anchor="end">2000</text>
<text x="81.4" y="818.8" text-anchor="end">2500</text>
<text x="81.4" y="766.6" text-anchor="end">3000</text>
<text x="120.9" y="1113.6" textLength="64.9" lengthAdjust="spacingAndGlyphs">future90d_ROI_min</text>
<text x="254.5" y="1113.6" textLength="66.7" lengthAdjust="spacingAndGlyphs">future90d_ROI_max</text>
<text x="386.6" y="1113.6" textLength="71.7" lengthAdjust="spacingAndGlyphs">future90d_ROI_mean</text>
<text x="525.5" y="1113.6" textLength="62.6" lengthAdjust="spacingAndGlyphs">future90d_ROI_std</text>
</g>
<text x="164.7" y="724.0" font-size="10.6" textLength="381.6" lengthAdjust="spacingAndGlyphs" fill="#111">The Statitiscs of Future 90-day ROI by PU Ratio Clustering Categories</text>
<rect x="556.6" y="732.6" width="63.9" height="42.7" rx="1.6" fill="#fff" fill-opacity="0.8" stroke="#d4d4d4" stroke-width="0.7"/>
<rect x="559.2" y="735.6" width="13.8" height="4.6" fill="#254ea4"/>
<text x="578.7" y="740.4" font-size="7.4" fill="#1a1a1a" textLength="38.6" lengthAdjust="spacingAndGlyphs">labels90=0</text>
<rect x="559.2" y="745.9" width="13.8" height="4.6" fill="#45b56e"/>
<text x="578.7" y="750.8" font-size="7.4" fill="#1a1a1a" textLength="38.6" lengthAdjust="spacingAndGlyphs">labels90=1</text>
<rect x="559.2" y="756.1" width="13.8" height="4.6" fill="#e4233a"/>
<text x="578.7" y="760.9" font-size="7.4" fill="#1a1a1a" textLength="38.6" lengthAdjust="spacingAndGlyphs">labels90=2</text>
<rect x="559.2" y="766.5" width="13.8" height="4.6" fill="#62459d"/>
<text x="578.7" y="771.3" font-size="7.4" fill="#1a1a1a" textLength="38.6" lengthAdjust="spacingAndGlyphs">labels90=3</text>
<text x="316.3" y="1150.3" font-family="'Liberation Serif',serif" font-size="20.5" fill="#111">B.</text>
</svg></body></html>
